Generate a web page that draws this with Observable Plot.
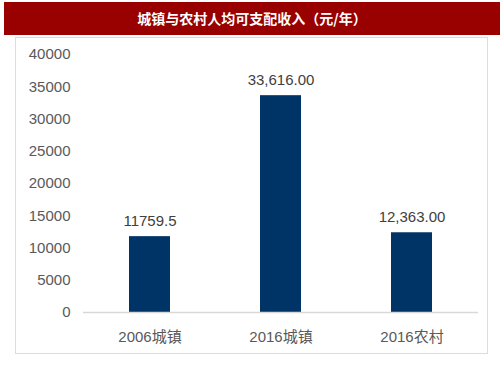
<!DOCTYPE html>
<html><head><meta charset="utf-8">
<script src="https://cdn.jsdelivr.net/npm/d3@7"></script>
<script src="https://cdn.jsdelivr.net/npm/@observablehq/plot@0.6"></script>
<style>
html,body{margin:0;padding:0;background:#fff;width:503px;height:378px;overflow:hidden;}
#wrap{position:relative;width:503px;height:378px;font-family:"Liberation Sans","Noto Sans CJK SC",sans-serif;}
#title{position:absolute;left:4px;top:2px;width:496px;height:33px;background:#990000;color:#fff;font-weight:bold;font-size:14px;line-height:33px;text-align:center;font-family:"Noto Sans CJK SC",sans-serif;}
#frame{position:absolute;left:15px;top:37px;width:471px;height:315px;border:1px solid #dcdcdc;}
#chart{position:absolute;left:0;top:0;}
</style></head>
<body><div id="wrap"><div id="title">城镇与农村人均可支配收入（元/年）</div><div id="frame"></div><div id="chart"></div></div>
<script>
const categories = ["2006城镇", "2016城镇", "2016农村"];
const values = [11759.5, 33616, 12363];
const valueLabels = ["11759.5", "33,616.00", "12,363.00"];
const yTicks = [0, 5000, 10000, 15000, 20000, 25000, 30000, 35000, 40000];

const data = categories.map((c, i) => ({cat: c, v: values[i], label: valueLabels[i]}));

const chart = Plot.plot({
  width: 503,
  height: 378,
  marginLeft: 83,
  marginRight: 25,
  marginTop: 54,
  marginBottom: 66,
  style: {background: "transparent", fontFamily: "'Liberation Sans','Noto Sans CJK SC',sans-serif", fontSize: "15px", color: "#595959"},
  x: {domain: categories, paddingInner: 0.69, paddingOuter: 0.345, label: null},
  y: {domain: [0, 40000], label: null},
  marks: [
    Plot.axisY({ticks: yTicks, tickSize: 0, tickPadding: 13, tickFormat: d => String(d), fontSize: 15, fill: "#595959", label: null}),
    Plot.axisX({tickSize: 0, tickPadding: 19, fontSize: 15, fill: "#595959", label: null}),
    Plot.barY(data, {x: "cat", y: "v", fill: "#003366"}),
    Plot.ruleY([0], {stroke: "#d9d9d9", strokeWidth: 1.5}),
    Plot.text(data, {x: "cat", y: "v", text: "label", lineAnchor: "bottom", dy: -11, fontSize: 15, fill: "#404040"})
  ]
});
document.getElementById("chart").appendChild(chart);
</script></body></html>
